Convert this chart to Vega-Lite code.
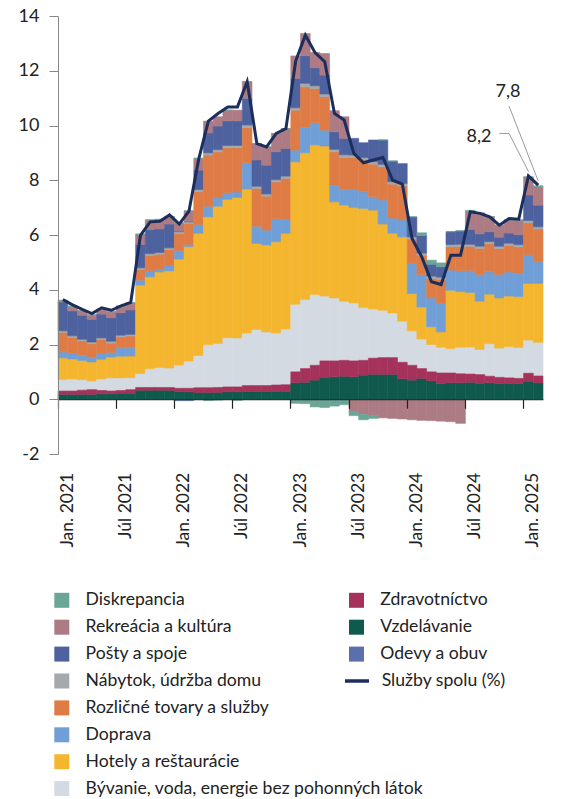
{
  "$schema": "https://vega.github.io/schema/vega-lite/v6.json",
  "autosize": "none",
  "width": 485,
  "height": 438,
  "padding": {"left": 58, "top": 16, "right": 19, "bottom": 345},
  "background": "white",
  "config": {"view": {"stroke": null}, "font": "Lato", "axis": {"labelFont": "Lato"}, "legend": {"labelFont": "Lato"}},
  "datasets": {
    "series": [
      {"k": "ode", "name": "Odevy a obuv", "rank": 1, "g": "B"},
      {"k": "vzd", "name": "Vzdelávanie", "rank": 2, "g": "B"},
      {"k": "zdr", "name": "Zdravotníctvo", "rank": 3, "g": "B"},
      {"k": "byv", "name": "Bývanie, voda, energie bez pohonných látok", "rank": 4, "g": "A"},
      {"k": "hot", "name": "Hotely a reštaurácie", "rank": 5, "g": "A"},
      {"k": "dop", "name": "Doprava", "rank": 6, "g": "A"},
      {"k": "roz", "name": "Rozličné tovary a služby", "rank": 7, "g": "A"},
      {"k": "nab", "name": "Nábytok, údržba domu", "rank": 8, "g": "A"},
      {"k": "pos", "name": "Pošty a spoje", "rank": 9, "g": "A"},
      {"k": "rek", "name": "Rekreácia a kultúra", "rank": 10, "g": "A"},
      {"k": "dis", "name": "Diskrepancia", "rank": 11, "g": "A"}
    ],
    "rules": [
      {"m": "2024-10", "m2": "2024-11", "v": 9.71, "v2": 9.71},
      {"m": "2024-11", "m2": "2025-01", "v": 9.71, "v2": 8.32},
      {"m": "2024-11", "m2": "2025-02", "v": 10.71, "v2": 7.98}
    ],
    "labels": [
      {"m": "2024-08", "v": 9.59, "label": "8,2"},
      {"m": "2024-11", "v": 11.22, "label": "7,8"}
    ]
  },
  "data": {"values": [
    {"m": "2021-01", "vzd": 0.18, "zdr": 0.12, "byv": 0.42, "hot": 0.79, "dop": 0.22, "roz": 0.71, "nab": 0.06, "pos": 1.06, "rek": 0, "dis": 0.06, "ode": 0, "total": 3.64},
    {"m": "2021-02", "vzd": 0.18, "zdr": 0.12, "byv": 0.44, "hot": 0.73, "dop": 0.2, "roz": 0.59, "nab": 0.06, "pos": 0.91, "rek": 0.15, "dis": 0.03, "ode": 0, "total": 3.45},
    {"m": "2021-03", "vzd": 0.18, "zdr": 0.15, "byv": 0.39, "hot": 0.7, "dop": 0.19, "roz": 0.52, "nab": 0.06, "pos": 0.88, "rek": 0.15, "dis": 0.02, "ode": 0, "total": 3.28},
    {"m": "2021-04", "vzd": 0.18, "zdr": 0.17, "byv": 0.32, "hot": 0.69, "dop": 0.16, "roz": 0.51, "nab": 0.06, "pos": 0.83, "rek": 0.15, "dis": 0.02, "ode": 0, "total": 3.13},
    {"m": "2021-05", "vzd": 0.2, "zdr": 0.12, "byv": 0.42, "hot": 0.72, "dop": 0.21, "roz": 0.51, "nab": 0.06, "pos": 0.87, "rek": 0.17, "dis": 0.02, "ode": 0, "total": 3.34},
    {"m": "2021-06", "vzd": 0.2, "zdr": 0.1, "byv": 0.48, "hot": 0.76, "dop": 0.17, "roz": 0.34, "nab": 0.07, "pos": 0.86, "rek": 0.21, "dis": 0.02, "ode": 0, "total": 3.25},
    {"m": "2021-07", "vzd": 0.22, "zdr": 0.1, "byv": 0.46, "hot": 0.79, "dop": 0.31, "roz": 0.4, "nab": 0.06, "pos": 0.82, "rek": 0.24, "dis": 0.01, "ode": 0, "total": 3.41},
    {"m": "2021-08", "vzd": 0.22, "zdr": 0.13, "byv": 0.44, "hot": 0.79, "dop": 0.3, "roz": 0.43, "nab": 0.06, "pos": 0.89, "rek": 0.26, "dis": 0.01, "ode": 0, "total": 3.54},
    {"m": "2021-09", "vzd": 0.33, "zdr": 0.1, "byv": 0.51, "hot": 3.23, "dop": 0.18, "roz": 0.39, "nab": 0.06, "pos": 0.85, "rek": 0.37, "dis": 0.02, "ode": 0, "total": 5.99},
    {"m": "2021-10", "vzd": 0.33, "zdr": 0.1, "byv": 0.68, "hot": 3.36, "dop": 0.22, "roz": 0.57, "nab": 0.06, "pos": 0.88, "rek": 0.34, "dis": 0.02, "ode": 0, "total": 6.48},
    {"m": "2021-11", "vzd": 0.33, "zdr": 0.1, "byv": 0.73, "hot": 3.49, "dop": 0.09, "roz": 0.56, "nab": 0.06, "pos": 0.86, "rek": 0.34, "dis": 0.02, "ode": 0, "total": 6.5},
    {"m": "2021-12", "vzd": 0.33, "zdr": 0.1, "byv": 0.71, "hot": 3.55, "dop": 0.21, "roz": 0.57, "nab": 0.06, "pos": 0.87, "rek": 0.26, "dis": 0.02, "ode": 0, "total": 6.73},
    {"m": "2022-01", "vzd": 0.28, "zdr": 0.12, "byv": 0.85, "hot": 3.87, "dop": 0.32, "roz": 0.61, "nab": 0.07, "pos": 0.02, "rek": 0.3, "dis": 0, "ode": -0.05, "total": 6.4},
    {"m": "2022-02", "vzd": 0.27, "zdr": 0.13, "byv": 1.0, "hot": 4.17, "dop": 0.08, "roz": 0.77, "nab": 0.06, "pos": 0.02, "rek": 0.38, "dis": 0, "ode": -0.05, "total": 6.87},
    {"m": "2022-03", "vzd": 0.25, "zdr": 0.17, "byv": 1.18, "hot": 4.46, "dop": 0.32, "roz": 1.2, "nab": 0.08, "pos": 0.71, "rek": 0.43, "dis": 0, "ode": 0, "total": 8.76},
    {"m": "2022-04", "vzd": 0.25, "zdr": 0.17, "byv": 1.57, "hot": 4.67, "dop": 0.39, "roz": 1.87, "nab": 0.08, "pos": 0.73, "rek": 0.43, "dis": -0.05, "ode": 0, "total": 10.16},
    {"m": "2022-05", "vzd": 0.25, "zdr": 0.18, "byv": 1.61, "hot": 5.01, "dop": 0.34, "roz": 1.65, "nab": 0.08, "pos": 0.86, "rek": 0.34, "dis": -0.03, "ode": 0, "total": 10.44},
    {"m": "2022-06", "vzd": 0.27, "zdr": 0.18, "byv": 1.8, "hot": 5.05, "dop": 0.24, "roz": 1.65, "nab": 0.08, "pos": 0.9, "rek": 0.39, "dis": 0, "ode": 0, "total": 10.68},
    {"m": "2022-07", "vzd": 0.27, "zdr": 0.18, "byv": 1.79, "hot": 5.13, "dop": 0.2, "roz": 1.62, "nab": 0.08, "pos": 0.9, "rek": 0.39, "dis": -0.04, "ode": 0, "total": 10.68},
    {"m": "2022-08", "vzd": 0.28, "zdr": 0.22, "byv": 1.92, "hot": 5.26, "dop": 0.96, "roz": 1.28, "nab": 0.1, "pos": 0.97, "rek": 0.61, "dis": 0, "ode": 0, "total": 11.6},
    {"m": "2022-09", "vzd": 0.28, "zdr": 0.22, "byv": 2.05, "hot": 3.14, "dop": 0.63, "roz": 1.38, "nab": 0.08, "pos": 0.96, "rek": 0.6, "dis": 0, "ode": 0, "total": 9.34},
    {"m": "2022-10", "vzd": 0.28, "zdr": 0.22, "byv": 1.96, "hot": 3.17, "dop": 0.55, "roz": 1.24, "nab": 0.08, "pos": 1.05, "rek": 0.67, "dis": 0, "ode": 0, "total": 9.22},
    {"m": "2022-11", "vzd": 0.29, "zdr": 0.23, "byv": 1.9, "hot": 3.33, "dop": 0.84, "roz": 1.35, "nab": 0.08, "pos": 1.02, "rek": 0.67, "dis": 0, "ode": 0, "total": 9.71},
    {"m": "2022-12", "vzd": 0.29, "zdr": 0.24, "byv": 2.04, "hot": 3.49, "dop": 0.52, "roz": 1.49, "nab": 0.08, "pos": 1.01, "rek": 0.73, "dis": 0, "ode": 0, "total": 9.89},
    {"m": "2023-01", "vzd": 0.6, "zdr": 0.4, "byv": 2.47, "hot": 5.2, "dop": 0.43, "roz": 1.46, "nab": 0.09, "pos": 1.07, "rek": 0.82, "dis": -0.15, "ode": 0, "total": 12.35},
    {"m": "2023-02", "vzd": 0.62, "zdr": 0.5, "byv": 2.52, "hot": 5.36, "dop": 0.93, "roz": 1.48, "nab": 0.13, "pos": 1.01, "rek": 0.81, "dis": -0.16, "ode": 0, "total": 13.3},
    {"m": "2023-03", "vzd": 0.7, "zdr": 0.54, "byv": 2.59, "hot": 5.46, "dop": 0.81, "roz": 1.25, "nab": 0.1, "pos": 0.66, "rek": 0.56, "dis": -0.28, "ode": 0, "total": 12.66},
    {"m": "2023-04", "vzd": 0.8, "zdr": 0.6, "byv": 2.37, "hot": 5.48, "dop": 0.58, "roz": 1.22, "nab": 0.1, "pos": 0.69, "rek": 0.79, "dis": -0.3, "ode": 0, "total": 12.33},
    {"m": "2023-05", "vzd": 0.82, "zdr": 0.58, "byv": 2.3, "hot": 3.51, "dop": 0.61, "roz": 1.22, "nab": 0.09, "pos": 0.64, "rek": 0.77, "dis": -0.25, "ode": 0, "total": 10.44},
    {"m": "2023-06", "vzd": 0.84, "zdr": 0.58, "byv": 2.16, "hot": 3.51, "dop": 0.57, "roz": 1.17, "nab": 0.1, "pos": 0.6, "rek": 0.79, "dis": -0.2, "ode": 0, "total": 10.2},
    {"m": "2023-07", "vzd": 0.82, "zdr": 0.58, "byv": 2.12, "hot": 3.48, "dop": 0.66, "roz": 1.17, "nab": 0.09, "pos": 0.61, "rek": -0.45, "dis": -0.15, "ode": 0, "total": 8.98},
    {"m": "2023-08", "vzd": 0.88, "zdr": 0.54, "byv": 1.93, "hot": 3.62, "dop": 0.61, "roz": 1.16, "nab": 0.09, "pos": 0.54, "rek": -0.55, "dis": -0.2, "ode": 0, "total": 8.64},
    {"m": "2023-09", "vzd": 0.91, "zdr": 0.59, "byv": 1.8, "hot": 3.61, "dop": 0.49, "roz": 1.19, "nab": 0.09, "pos": 0.79, "rek": -0.6, "dis": -0.1, "ode": 0, "total": 8.74},
    {"m": "2023-10", "vzd": 0.91, "zdr": 0.61, "byv": 1.73, "hot": 3.15, "dop": 0.88, "roz": 1.21, "nab": 0.09, "pos": 0.89, "rek": -0.68, "dis": 0, "ode": 0, "total": 8.83},
    {"m": "2023-11", "vzd": 0.91, "zdr": 0.61, "byv": 1.63, "hot": 2.91, "dop": 0.56, "roz": 1.24, "nab": 0.09, "pos": 0.75, "rek": -0.7, "dis": 0, "ode": 0, "total": 8.0},
    {"m": "2023-12", "vzd": 0.75, "zdr": 0.6, "byv": 1.5, "hot": 3.08, "dop": 0.62, "roz": 1.24, "nab": 0.09, "pos": 0.73, "rek": -0.72, "dis": 0, "ode": 0, "total": 7.86},
    {"m": "2024-01", "vzd": 0.7, "zdr": 0.54, "byv": 1.26, "hot": 1.36, "dop": 1.12, "roz": 0.87, "nab": 0.08, "pos": 0.73, "rek": -0.75, "dis": 0, "ode": 0, "total": 5.87},
    {"m": "2024-02", "vzd": 0.76, "zdr": 0.36, "byv": 1.08, "hot": 1.17, "dop": 1.18, "roz": 0.71, "nab": 0.08, "pos": 0.64, "rek": -0.77, "dis": 0.1, "ode": 0, "total": 5.2},
    {"m": "2024-03", "vzd": 0.67, "zdr": 0.33, "byv": 1.0, "hot": 0.65, "dop": 1.05, "roz": 0.71, "nab": 0.09, "pos": 0.43, "rek": -0.78, "dis": 0.15, "ode": 0, "total": 4.29},
    {"m": "2024-04", "vzd": 0.57, "zdr": 0.39, "byv": 0.94, "hot": 0.56, "dop": 1.04, "roz": 0.88, "nab": 0.08, "pos": 0.38, "rek": -0.8, "dis": 0.14, "ode": 0, "total": 4.19},
    {"m": "2024-05", "vzd": 0.6, "zdr": 0.36, "byv": 0.89, "hot": 2.13, "dop": 0.74, "roz": 0.85, "nab": 0.08, "pos": 0.47, "rek": -0.82, "dis": 0, "ode": 0, "total": 5.26},
    {"m": "2024-06", "vzd": 0.6, "zdr": 0.33, "byv": 0.97, "hot": 2.03, "dop": 0.76, "roz": 0.89, "nab": 0.08, "pos": 0.49, "rek": -0.88, "dis": 0, "ode": 0, "total": 5.26},
    {"m": "2024-07", "vzd": 0.62, "zdr": 0.3, "byv": 0.99, "hot": 1.99, "dop": 0.8, "roz": 0.88, "nab": 0.08, "pos": 0.54, "rek": 0.65, "dis": 0.05, "ode": 0, "total": 6.85},
    {"m": "2024-08", "vzd": 0.58, "zdr": 0.32, "byv": 0.92, "hot": 1.76, "dop": 0.97, "roz": 0.96, "nab": 0.08, "pos": 0.45, "rek": 0.76, "dis": 0, "ode": 0, "total": 6.79},
    {"m": "2024-09", "vzd": 0.6, "zdr": 0.24, "byv": 1.19, "hot": 1.81, "dop": 0.82, "roz": 1.02, "nab": 0.08, "pos": 0.36, "rek": 0.55, "dis": 0, "ode": 0, "total": 6.66},
    {"m": "2024-10", "vzd": 0.57, "zdr": 0.23, "byv": 1.07, "hot": 1.83, "dop": 0.86, "roz": 0.95, "nab": 0.08, "pos": 0.33, "rek": 0.44, "dis": 0, "ode": 0, "total": 6.36},
    {"m": "2024-11", "vzd": 0.58, "zdr": 0.2, "byv": 1.14, "hot": 1.85, "dop": 0.88, "roz": 0.97, "nab": 0.08, "pos": 0.37, "rek": 0.48, "dis": 0, "ode": 0, "total": 6.6},
    {"m": "2024-12", "vzd": 0.57, "zdr": 0.19, "byv": 1.13, "hot": 1.86, "dop": 0.85, "roz": 0.97, "nab": 0.08, "pos": 0.36, "rek": 0.54, "dis": 0, "ode": 0, "total": 6.58},
    {"m": "2025-01", "vzd": 0.66, "zdr": 0.29, "byv": 1.21, "hot": 2.07, "dop": 1.05, "roz": 1.16, "nab": 0.09, "pos": 0.93, "rek": 0.66, "dis": 0, "ode": 0, "total": 8.16},
    {"m": "2025-02", "vzd": 0.6, "zdr": 0.25, "byv": 1.23, "hot": 2.15, "dop": 0.79, "roz": 1.2, "nab": 0.08, "pos": 0.79, "rek": 0.67, "dis": 0.04, "ode": 0, "total": 7.82}
  ]},
  "encoding": {
    "x": {
      "field": "m", "type": "ordinal", "title": null,
      "scale": {"paddingInner": 0, "paddingOuter": 0},
      "axis": {
        "orient": "bottom", "offset": -54.75, "zindex": 1,
        "values": ["2021-01", "2021-07", "2022-01", "2022-07", "2023-01", "2023-07", "2024-01", "2024-07", "2025-01"],
        "bandPosition": 0,
        "labelExpr": "(substring(datum.value, 5, 7) == '01' ? 'Jan. ' : 'Júl ') + substring(datum.value, 0, 4)",
        "labelAngle": 270, "labelAlign": "right", "labelBaseline": "middle",
        "labelPadding": 64, "labelOffset": 5, "labelFontSize": 17.5, "labelColor": "#222",
        "domainColor": "#222", "domainWidth": 1.2, "tickColor": "#222", "tickSize": 9, "tickWidth": 1.2
      }
    }
  },
  "layer": [
    {
      "transform": [
        {"fold": ["ode", "vzd", "zdr", "byv", "hot", "dop", "roz", "nab", "pos", "rek", "dis"], "as": ["key", "val"]},
        {"lookup": "key", "from": {"data": {"name": "series"}, "key": "k", "fields": ["name", "rank", "g"]}},
        {"stack": "val", "groupby": ["m"], "sort": [{"field": "rank", "order": "ascending"}], "as": ["v0", "v1"]},
        {"filter": "datum.g === 'A'"}
      ],
      "mark": {"type": "bar", "strokeWidth": 0.6},
      "encoding": {
        "y": {
          "field": "v0", "type": "quantitative", "title": null,
          "scale": {"domain": [-2, 14], "nice": false, "zero": false},
          "axis": {
            "values": [-2, 0, 2, 4, 6, 8, 10, 12, 14], "grid": false, "title": null,
            "labelExpr": "'' + datum.value", "labelFontSize": 18, "labelColor": "#222", "labelPadding": 10,
            "domainColor": "#888", "tickColor": "#888", "tickSize": 9, "zindex": 1
          }
        },
        "y2": {"field": "v1"},
        "color": {
          "field": "name", "type": "nominal",
          "scale": {
            "domain": ["Diskrepancia", "Rekreácia a kultúra", "Pošty a spoje", "Nábytok, údržba domu", "Rozličné tovary a služby", "Doprava", "Hotely a reštaurácie", "Bývanie, voda, energie bez pohonných látok"],
            "range": ["#6aa597", "#ad7b83", "#4e62a0", "#a3a9ac", "#df7c46", "#6f9fd6", "#f5b62f", "#d3dae1"]
          },
          "legend": {
            "orient": "none", "legendX": -5, "legendY": 575.5, "direction": "vertical", "title": null,
            "symbolType": "square", "symbolSize": 225, "symbolStrokeWidth": 0, "symbolOpacity": 1,
            "labelFontSize": 17.6, "labelColor": "#222", "labelOffset": 15, "rowPadding": 7.9, "padding": 0, "labelLimit": 500
          }
        },
        "stroke": {
          "field": "name", "type": "nominal", "legend": null,
          "scale": {
            "domain": ["Diskrepancia", "Rekreácia a kultúra", "Pošty a spoje", "Nábytok, údržba domu", "Rozličné tovary a služby", "Doprava", "Hotely a reštaurácie", "Bývanie, voda, energie bez pohonných látok"],
            "range": ["#6aa597", "#ad7b83", "#4e62a0", "#a3a9ac", "#df7c46", "#6f9fd6", "#f5b62f", "#d3dae1"]
          }
        }
      }
    },
    {
      "transform": [
        {"fold": ["ode", "vzd", "zdr", "byv", "hot", "dop", "roz", "nab", "pos", "rek", "dis"], "as": ["key", "val"]},
        {"lookup": "key", "from": {"data": {"name": "series"}, "key": "k", "fields": ["name", "rank", "g"]}},
        {"stack": "val", "groupby": ["m"], "sort": [{"field": "rank", "order": "ascending"}], "as": ["v0", "v1"]},
        {"filter": "datum.g === 'B'"}
      ],
      "mark": {"type": "bar", "strokeWidth": 0.6},
      "encoding": {
        "y": {"field": "v0", "type": "quantitative", "title": null},
        "y2": {"field": "v1"},
        "color": {
          "field": "name", "type": "nominal",
          "scale": {
            "domain": ["Zdravotníctvo", "Vzdelávanie", "Odevy a obuv"],
            "range": ["#a5325a", "#10594d", "#5a6fac"]
          },
          "legend": {
            "orient": "none", "legendX": 289.7, "legendY": 575.5, "direction": "vertical", "title": null,
            "symbolType": "square", "symbolSize": 225, "symbolStrokeWidth": 0, "symbolOpacity": 1,
            "labelFontSize": 17.6, "labelColor": "#222", "labelOffset": 15, "rowPadding": 7.9, "padding": 0, "labelLimit": 500
          }
        },
        "stroke": {
          "field": "name", "type": "nominal", "legend": null,
          "scale": {
            "domain": ["Zdravotníctvo", "Vzdelávanie", "Odevy a obuv"],
            "range": ["#a5325a", "#10594d", "#5a6fac"]
          }
        }
      }
    },
    {
      "mark": {"type": "line", "strokeWidth": 3, "strokeJoin": "miter"},
      "encoding": {
        "y": {"field": "total", "type": "quantitative", "title": null},
        "color": {
          "datum": "Služby spolu (%)", "type": "nominal",
          "scale": {"domain": ["Služby spolu (%)"], "range": ["#1c2e5c"]},
          "legend": {
            "orient": "none", "legendX": 285, "legendY": 651, "direction": "vertical", "title": null,
            "symbolType": "stroke", "symbolSize": 576, "symbolStrokeWidth": 3.5,
            "labelFontSize": 17.6, "labelColor": "#222", "labelOffset": 10.7, "padding": 0, "labelLimit": 500
          }
        }
      }
    },
    {
      "data": {"name": "rules"},
      "mark": {"type": "rule", "color": "#999", "strokeWidth": 1},
      "encoding": {
        "x2": {"field": "m2"},
        "y": {"field": "v", "type": "quantitative", "title": null},
        "y2": {"field": "v2"}
      }
    },
    {
      "data": {"name": "labels"},
      "mark": {"type": "text", "fontSize": 18, "color": "#222", "align": "center", "baseline": "middle", "dx": -1},
      "encoding": {
        "y": {"field": "v", "type": "quantitative", "title": null},
        "text": {"field": "label"}
      }
    }
  ],
  "resolve": {"scale": {"color": "independent", "stroke": "independent"}}
}
